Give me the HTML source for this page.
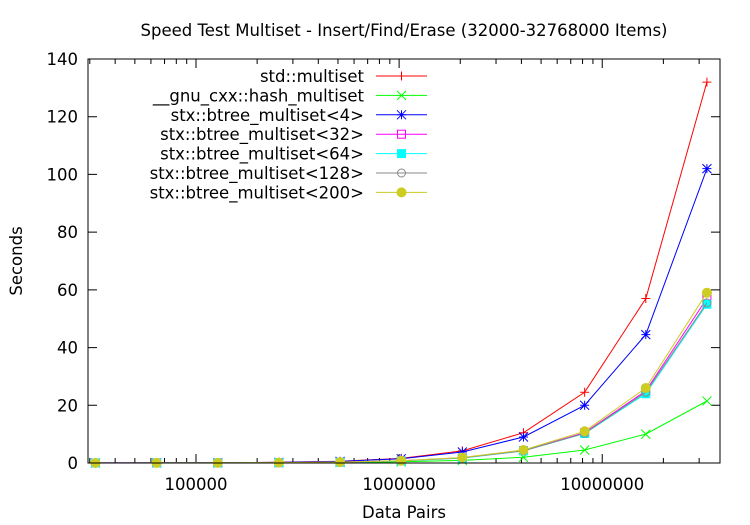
<!DOCTYPE html>
<html><head><meta charset="utf-8"><style>
body{margin:0;background:#fff}
svg{display:block;font-family:"DejaVu Sans","Liberation Sans",sans-serif;font-size:16.5px}
</style></head><body>
<svg id="chart" width="750" height="525" viewBox="0 0 750 525">
<rect x="0" y="0" width="750" height="525" fill="#fff"/>
<text x="404" y="36" text-anchor="middle">Speed Test Multiset - Insert/Find/Erase (32000-32768000 Items)</text>
<text x="404" y="518" text-anchor="middle">Data Pairs</text>
<text x="22" y="261" text-anchor="middle" transform="rotate(-90 22 261)">Seconds</text>
<g id="grid"></g>
<g id="series"></g>
<g id="legend"></g>
<rect x="88" y="59" width="632" height="404" fill="none" stroke="#000" stroke-width="1"/>
</svg>
<script>
const xValues = [32000,64000,128000,256000,512000,1024000,2048000,4096000,8192000,16384000,32768000];
const yTicks = [0,20,40,60,80,100,120,140];
const xTickLabels = ["100000","1000000","10000000"];
const seriesNames = ["std::multiset","__gnu_cxx::hash_multiset","stx::btree_multiset<4>","stx::btree_multiset<32>","stx::btree_multiset<64>","stx::btree_multiset<128>","stx::btree_multiset<200>"];
const sStd = [0.02,0.05,0.1,0.25,0.6,1.6,4.2,10.5,24.5,57,132];
const sHash = [0.007,0.015,0.03,0.07,0.15,0.4,0.9,2,4.5,10,21.5];
const sB4 = [0.02,0.04,0.09,0.22,0.55,1.5,3.8,9,20,44.5,102];
const sB32 = [0.01,0.03,0.06,0.12,0.3,0.75,1.8,4.3,10.5,25,57];
const sB64 = [0.01,0.03,0.06,0.12,0.28,0.7,1.7,4.2,10.2,24,55];
const sB128 = [0.01,0.03,0.06,0.12,0.29,0.72,1.75,4.2,10.3,24.5,55.5];
const sB200 = [0.01,0.03,0.06,0.13,0.32,0.8,1.9,4.5,11,26,59];

const NS="http://www.w3.org/2000/svg";
const L=88,R=720,T=59,B=463;
const lx0=Math.log10(29400), lx1=Math.log10(38000000);
function xs(v){return L+(Math.log10(v)-lx0)/(lx1-lx0)*(R-L);}
function ys(v){return B-v/140*(B-T);}
function mk(tag,attrs,parent){const e=document.createElementNS(NS,tag);for(const k in attrs)e.setAttribute(k,attrs[k]);parent.appendChild(e);return e;}
const grid=document.getElementById('grid'),ser=document.getElementById('series'),leg=document.getElementById('legend');
yTicks.forEach(t=>{const y=ys(t);
 const l=mk('path',{d:`M${L},${y}h9M${R},${y}h-9`,stroke:'#000'},grid);
 
 
 const tx=mk('text',{x:78,y:y+6,'text-anchor':'end'},grid);tx.textContent=t;
 
 
});
for(let d=4;d<=7;d++){for(let m=1;m<10;m++){const v=m*Math.pow(10,d);const x=xs(v);if(x<L||x>R)continue;
 const len=m===1?9:5;
 const l=mk('path',{d:`M${x},${B}v-${len}M${x},${T}v${len}`,stroke:'#000'},grid);
 
 
}}
xTickLabels.forEach(s=>{const tx=mk('text',{x:xs(+s),y:490,'text-anchor':'middle'},grid);tx.textContent=s;
 
 
});
const colors=['#ff0000','#00ff00','#0000ff','#ff00ff','#00ffff','#888888','#cccc22'];
const data=[sStd,sHash,sB4,sB32,sB64,sB128,sB200];
function marker(i,x,y,g){const c=colors[i];const s=4.5;
 if(i===0)return mk('path',{d:`M${x-s},${y}h${2*s}M${x},${y-s}v${2*s}`,stroke:c,fill:'none'},g);
 if(i===1)return mk('path',{d:`M${x-s},${y-s}l${2*s},${2*s}M${x-s},${y+s}l${2*s},${-2*s}`,stroke:c,fill:'none'},g);
 if(i===2)return mk('path',{d:`M${x-s},${y}h${2*s}M${x},${y-s}v${2*s}M${x-s},${y-s}l${2*s},${2*s}M${x-s},${y+s}l${2*s},${-2*s}`,stroke:c,fill:'none'},g);
 if(i===3)return mk('rect',{x:x-4,y:y-4,width:8,height:8,stroke:c,fill:'none'},g);
 if(i===4)return mk('rect',{x:x-4.5,y:y-4.5,width:9,height:9,fill:c},g);
 if(i===5)return mk('circle',{cx:x,cy:y,r:4,stroke:c,fill:'none'},g);
 return mk('circle',{cx:x,cy:y,r:5,fill:c},g);}
data.forEach((arr,i)=>{
 const g=mk('g',{},ser);
 
 
 const pts=arr.map((v,j)=>xs(xValues[j]).toFixed(1)+','+ys(v).toFixed(1)).join(' ');
 const pl=mk('polyline',{points:pts,fill:'none',stroke:colors[i],'stroke-width':1},g);
 
 
 arr.forEach((v,j)=>{const m=marker(i,xs(xValues[j]),ys(v),g);
  
  });
 const ly=76+i*19.4;
 const t=mk('text',{x:364,y:ly+6,'text-anchor':'end'},leg);t.textContent=seriesNames[i];
 
 
 const ll=mk('path',{d:`M376,${ly}H427`,stroke:colors[i]},leg);
 
 
 const lm=marker(i,401.5,ly,leg);
 
 
});
</script>
</body></html>
